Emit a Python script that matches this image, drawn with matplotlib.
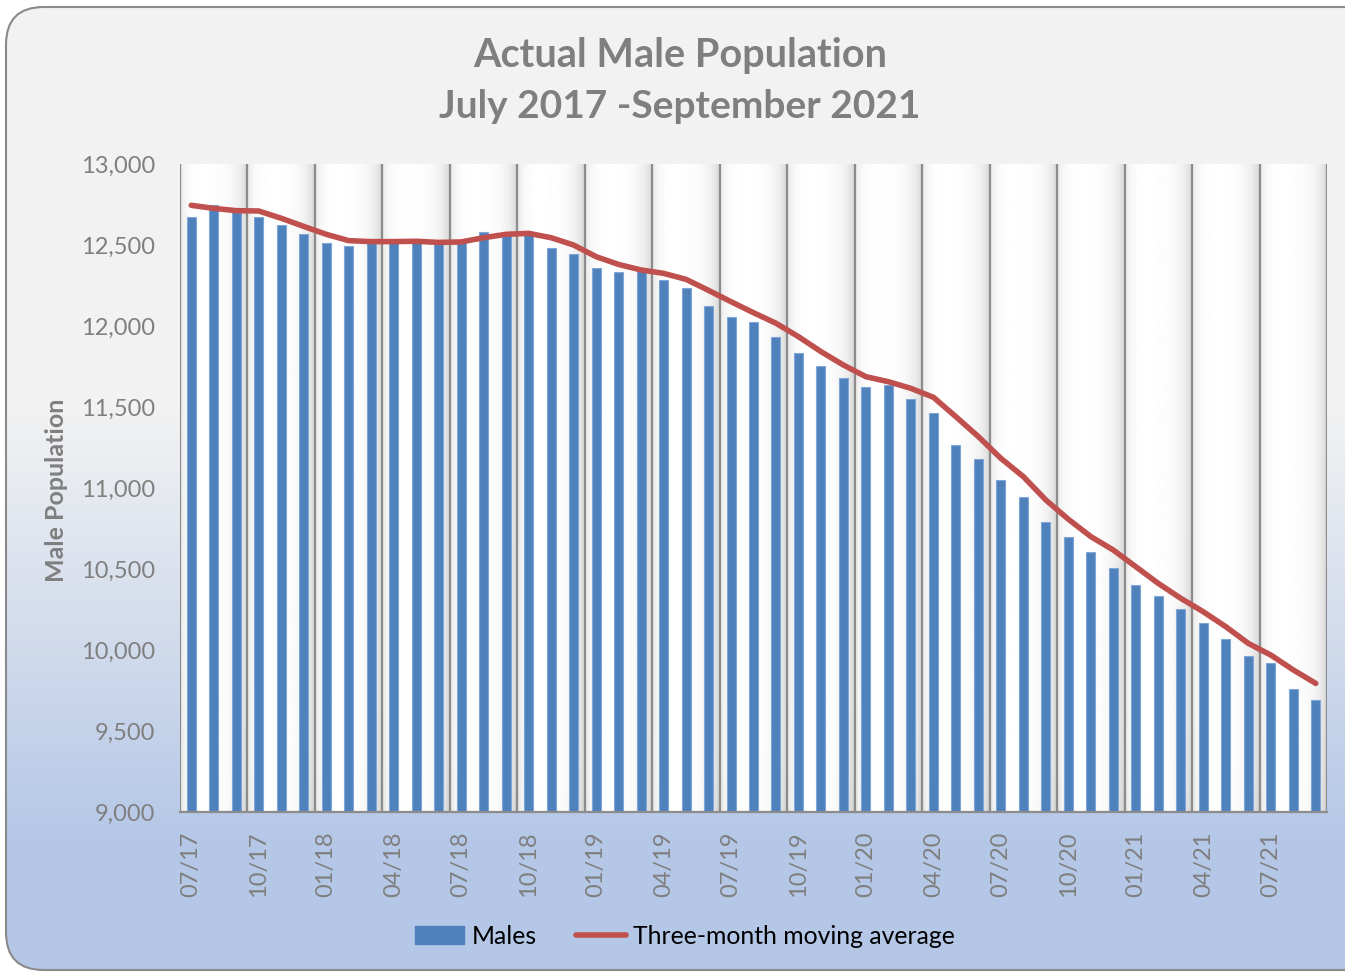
import matplotlib.pyplot as plt
import numpy as np
from matplotlib.patches import FancyBboxPatch, Patch
from matplotlib.lines import Line2D

plt.rcParams['font.family'] = ['Lato', 'DejaVu Sans']

# monthly male population, 07/17 .. 09/21
males = [12675, 12747, 12718, 12671, 12623, 12568, 12515, 12496, 12537, 12525,
         12525, 12505, 12515, 12578, 12565, 12570, 12484, 12447, 12356, 12333,
         12340, 12286, 12233, 12122, 12055, 12023, 11930, 11835, 11751, 11677,
         11623, 11636, 11550, 11461, 11265, 11179, 11047, 10946, 10788, 10696,
         10607, 10504, 10401, 10331, 10251, 10165, 10068, 9961, 9920, 9757, 9693]

# three-month moving average as drawn on the chart
moving_avg = [12745, 12726, 12712, 12710, 12665, 12615, 12566, 12527, 12521, 12521,
              12523, 12516, 12519, 12545, 12566, 12572, 12545, 12500, 12428, 12380,
              12346, 12325, 12288, 12220, 12150, 12082, 12017, 11934, 11842, 11759,
              11687, 11656, 11615, 11560, 11440, 11317, 11183, 11070, 10926, 10807,
              10700, 10617, 10514, 10411, 10319, 10236, 10144, 10041, 9969, 9877, 9794]

tick_labels = ["07/17", "10/17", "01/18", "04/18", "07/18", "10/18", "01/19", "04/19",
               "07/19", "10/19", "01/20", "04/20", "07/20", "10/20", "01/21", "04/21", "07/21"]

W, H = 1345, 974
fig = plt.figure(figsize=(W / 100, H / 100), dpi=100)
fig.patch.set_facecolor('white')

# background with rounded border
bg = fig.add_axes([0, 0, 1, 1], zorder=-10)
bg.set_axis_off()
bg.set_xlim(0, 1)
bg.set_ylim(0, 1)
t = np.linspace(0, 1, H)  # top -> bottom
mix = np.clip((t - 0.42) / 0.45, 0, 1)[:, None]
top_c = np.array([242, 242, 242]) / 255
bot_c = np.array([180, 199, 231]) / 255
grad = top_c * (1 - mix[..., None]) + bot_c * mix[..., None]
grad = np.repeat(grad, 4, axis=1)
box = FancyBboxPatch((6 / W, 4 / H), 1.05, 1 - 11 / H,
                     boxstyle="round,pad=0,rounding_size=0.028",
                     mutation_aspect=W / H, transform=bg.transData,
                     facecolor='none', edgecolor='#8a8a8a', lw=1.5, zorder=2)
bg.add_patch(box)
im = bg.imshow(grad, extent=(0, 1, 0, 1), aspect='auto', zorder=1)
im.set_clip_path(box)

# plot area
ax = fig.add_axes([180 / W, 1 - 812 / H, (1327 - 180) / W, (812 - 164) / H])
n = len(males)
x = np.arange(n)
ax.set_xlim(-0.5, n - 0.5)
ax.set_ylim(9000, 13000)

# shaded vertical bands between gridlines
cols = 51 * 40
xs = np.linspace(0, 17, cols, endpoint=False)
tb = xs % 1
prof = 1 - 0.10 * np.exp(-tb / 0.08) - 0.17 * np.exp(-(1 - tb) / 0.14)
ys = np.linspace(0, 1, 200)[:, None]
shade = prof[None, :] - 0.04 * np.exp(-ys / 0.05) * (1 - prof[None, :]) * 6
ax.imshow(shade, cmap='gray', vmin=0, vmax=1, extent=(-0.5, n - 0.5, 13000, 9000),
          aspect='auto', zorder=0)
for k in range(0, n + 1, 3):
    ax.axvline(k - 0.5, color='#8c8c8c', lw=1.6, zorder=1)

ax.bar(x, males, width=0.4, color='#4f81bd', edgecolor='#7fa6d4', linewidth=0.8, zorder=2)
ax.plot(x, moving_avg, color='#c0504d', lw=4, solid_capstyle='round', zorder=3)

for s in ['top', 'left', 'right']:
    ax.spines[s].set_visible(False)
ax.spines['bottom'].set_color('#8c8c8c')
ax.spines['bottom'].set_linewidth(1.6)

ax.set_yticks(np.arange(9000, 13001, 500))
ax.set_yticklabels([f"{v:,}" for v in range(9000, 13001, 500)])
ax.set_xticks(x[::3])
ax.set_xticklabels(tick_labels, rotation=90)
ax.tick_params(length=0, colors='#7f7f7f', labelsize=17)
ax.tick_params(axis='y', pad=18)
ax.tick_params(axis='x', pad=14)

fig.text(680 / W, 1 - 55 / H, "Actual Male Population", ha='center', va='center',
         fontsize=28.5, fontweight='bold', color='#7f7f7f')
fig.text(680 / W, 1 - 107 / H, "July 2017 -September 2021", ha='center', va='center',
         fontsize=28, fontweight='bold', color='#7f7f7f')
fig.text(57 / W, 1 - 490 / H, "Male Population", rotation=90, ha='center', va='center',
         fontsize=18, fontweight='bold', color='#7f7f7f')

handles = [Patch(facecolor='#4f81bd', edgecolor='#4f81bd', label='Males'),
           Line2D([], [], color='#c0504d', lw=4, solid_capstyle='round',
                  label='Three-month moving average')]
fig.legend(handles=handles, loc='center', bbox_to_anchor=(685 / W, 1 - 936 / H), ncol=2,
           frameon=False, fontsize=17.8, handlelength=2.0, handletextpad=0.3,
           columnspacing=1.6)

fig.savefig('out.png', dpi=100)
